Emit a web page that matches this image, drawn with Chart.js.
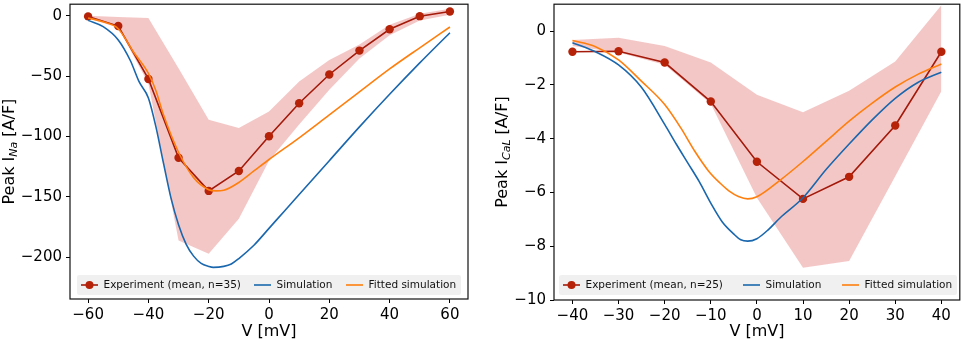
<!DOCTYPE html>
<html>
<head>
<meta charset="utf-8">
<script src="https://cdn.jsdelivr.net/npm/chart.js@4.4.1/dist/chart.umd.min.js"></script>
<style>
  html, body { margin: 0; padding: 0; background: #fff; }
  #wrap { position: relative; width: 964px; height: 343px; }
  .panel { position: absolute; top: 0; width: 482px; height: 343px; }
</style>
</head>
<body>
<div id="wrap">
  <div class="panel" style="left:0"><canvas id="naChart" width="482" height="343"></canvas></div>
  <div class="panel" style="left:482px"><canvas id="caChart" width="482" height="343"></canvas></div>
</div>
<script>
// ---- left panel: peak I_Na ----
const naV     = [-60, -50, -40, -30, -20, -10, 0, 10, 20, 30, 40, 50, 60];
const naExp   = [-0.5, -8.5, -52.3, -117.5, -145, -128.5, -99.8, -72.4, -48.6, -28.8, -11.2, -0.3, 3.6];
const naUpper = [0, -1, -1.9, -43.5, -86, -92.9, -79.2, -54.5, -36.7, -23.8, -7.4, 1.6, 5.8];
const naLower = [-2, -10, -56, -186, -197, -168, -120, -90, -61.3, -35.3, -16.1, -3.8, 0.8];

const naSimV = [-60, -55, -50, -46, -43, -40, -37.5, -35, -32.5, -30, -27.5, -25, -22.5, -20, -18.5, -15, -12.5, -10, -5, 0, 5, 10, 20, 30, 40, 50, 60];
const naSim  = [-3.8, -9, -20, -37, -55, -68, -92, -122, -151, -173, -189, -199, -205, -207.5, -208.3, -207.5, -205.5, -201, -190, -176, -162, -148, -120, -92, -65, -39, -14];

const naFitV = [-60, -55, -50, -45, -40, -37.5, -35, -30, -25, -20, -17.5, -15, -10, -5, 0, 10, 20, 30, 40, 50, 60];
const naFit  = [-1.8, -5, -10.7, -29.8, -47.7, -62, -82, -113, -134, -144, -145, -144.5, -138, -128.5, -119, -101, -82, -63, -44, -26.5, -9.3];

const naXTicks = [-60, -40, -20, 0, 20, 40, 60];
const naYTicks = [0, -50, -100, -150, -200];
const naLegend = ['Experiment (mean, n=35)', 'Simulation', 'Fitted simulation'];

// ---- right panel: peak I_CaL ----
const caV     = [-40, -30, -20, -10, 0, 10, 20, 30, 40];
const caExp   = [-0.77, -0.75, -1.17, -2.62, -4.86, -6.24, -5.42, -3.51, -0.77];
const caUpper = [-0.33, -0.25, -0.55, -1.17, -2.37, -3.02, -2.22, -1.13, 0.96];
const caLower = [-0.55, -0.8, -1.25, -2.7, -6.2, -8.8, -8.55, -5.4, -2.24];

const caSimV = [-40, -35, -30, -25, -20, -17.5, -15, -12.5, -10, -7.5, -5, -3.5, -2, 0, 2.5, 5, 10, 15, 20, 25, 30, 35, 40];
const caSim  = [-0.43, -0.77, -1.26, -2.1, -3.47, -4.2, -4.9, -5.6, -6.4, -7.1, -7.55, -7.76, -7.81, -7.72, -7.38, -6.95, -6.2, -5.15, -4.2, -3.3, -2.5, -1.9, -1.53];

const caFitV = [-40, -35, -30, -25, -20, -16.5, -13.5, -10.5, -8, -6, -4, -2, 0, 5, 10, 15, 20, 25, 30, 35, 40];
const caFit  = [-0.35, -0.58, -1.07, -1.87, -2.73, -3.6, -4.46, -5.2, -5.65, -5.95, -6.15, -6.24, -6.16, -5.55, -4.85, -4.1, -3.35, -2.68, -2.08, -1.6, -1.22];

const caXTicks = [-40, -30, -20, -10, 0, 10, 20, 30, 40];
const caYTicks = [0, -2, -4, -6, -8, -10];
const caLegend = ['Experiment (mean, n=25)', 'Simulation', 'Fitted simulation'];

// colours
const FONT = '"DejaVu Sans", sans-serif';
const expLine = '#a3190a';
const expDot = '#b52207';
const bandCol = 'rgba(214, 39, 40, 0.26)';
const simCol = '#1a67ae';
const fitCol = '#ff7f0e';

Chart.defaults.font.family = FONT;
Chart.defaults.color = '#000';

function pts(xs, ys) {
  return xs.map((x, i) => ({ x: x, y: ys[i] }));
}
function minus(v) {
  return String(v).replace('-', '\u2212');
}

// frame round the plot area, like matplotlib spines
const framePlugin = {
  id: 'frame',
  afterDraw(chart) {
    const ctx = chart.ctx, ca = chart.chartArea;
    ctx.save();
    ctx.strokeStyle = '#111';
    ctx.lineWidth = 1.2;
    ctx.strokeRect(ca.left, ca.top, ca.right - ca.left, ca.bottom - ca.top);
    ctx.restore();
  }
};

// y title with subscript
const yTitlePlugin = {
  id: 'yTitle',
  afterDraw(chart, args, o) {
    const ctx = chart.ctx, ca = chart.chartArea;
    ctx.save();
    ctx.translate(o.x, (ca.top + ca.bottom) / 2);
    ctx.rotate(-Math.PI / 2);
    const big = '16px ' + FONT, small = 'italic 11px ' + FONT;
    ctx.font = big;
    const w1 = ctx.measureText(o.main).width;
    const w3 = ctx.measureText(o.tail).width;
    ctx.font = small;
    const w2 = ctx.measureText(o.sub).width;
    let x = -(w1 + w2 + w3) / 2;
    ctx.fillStyle = '#000';
    ctx.textBaseline = 'middle';
    ctx.font = big; ctx.fillText(o.main, x, 0); x += w1;
    ctx.font = small; ctx.fillText(o.sub, x, 4); x += w2;
    ctx.font = big; ctx.fillText(o.tail, x, 0);
    ctx.restore();
  }
};

// legend box inside the plot, bottom
const legendPlugin = {
  id: 'boxLegend',
  afterDraw(chart, args, o) {
    const ctx = chart.ctx, ca = chart.chartArea;
    const x0 = ca.left + o.box[0], x1 = ca.left + o.box[1];
    const y0 = ca.bottom - o.box[2], y1 = ca.bottom - o.box[3];
    const cy = (y0 + y1) / 2;
    ctx.save();
    ctx.fillStyle = 'rgba(238, 238, 238, 0.9)';
    ctx.beginPath();
    ctx.roundRect(x0, y0, x1 - x0, y1 - y0, 2);
    ctx.fill();
    ctx.font = '10.5px ' + FONT;
    ctx.textBaseline = 'middle';
    o.labels.forEach((lab, i) => {
      const hx = ca.left + o.handles[i];
      ctx.strokeStyle = o.colors[i];
      ctx.lineWidth = 1.6;
      ctx.beginPath();
      ctx.moveTo(hx, cy);
      ctx.lineTo(hx + 17, cy);
      ctx.stroke();
      if (i === 0) {
        ctx.fillStyle = expDot;
        ctx.beginPath();
        ctx.arc(hx + 8.5, cy, 4, 0, Math.PI * 2);
        ctx.fill();
      }
      ctx.fillStyle = '#111';
      ctx.fillText(lab, hx + 22.5, cy + 0.5);
    });
    ctx.restore();
  }
};

function makeChart(id, c) {
  const ctx = document.getElementById(id).getContext('2d');
  return new Chart(ctx, {
    type: 'line',
    data: {
      datasets: [
        { data: pts(c.v, c.upper), borderWidth: 0, pointRadius: 0, fill: '+1', backgroundColor: bandCol, order: 4 },
        { data: pts(c.v, c.lower), borderWidth: 0, pointRadius: 0, fill: false, order: 4 },
        { data: pts(c.v, c.exp), borderColor: expLine, borderWidth: 1.6, pointRadius: 4.2,
          pointBackgroundColor: expDot, pointBorderColor: expDot, pointBorderWidth: 0, fill: false, order: 2 },
        { data: pts(c.simV, c.sim), borderColor: simCol, borderWidth: 1.6, pointRadius: 0,
          cubicInterpolationMode: 'monotone', fill: false, order: 1 },
        { data: pts(c.fitV, c.fit), borderColor: fitCol, borderWidth: 1.6, pointRadius: 0,
          cubicInterpolationMode: 'monotone', fill: false, order: 0 }
      ]
    },
    options: {
      responsive: false,
      animation: false,
      devicePixelRatio: 1,
      layout: { padding: c.pad },
      plugins: {
        legend: { display: false },
        tooltip: { enabled: false },
        yTitle: c.ytitle,
        boxLegend: c.legend
      },
      scales: {
        x: {
          type: 'linear', min: c.xMin, max: c.xMax,
          afterBuildTicks: s => { s.ticks = c.xTicks.map(v => ({ value: v })); },
          afterFit: s => { s.height = c.xH; s.paddingLeft = 0; s.paddingRight = 0; },
          grid: { drawOnChartArea: false, drawTicks: true, tickLength: 4, color: '#000' },
          border: { display: false },
          ticks: { color: '#000', font: { size: 15 }, padding: 3, maxRotation: 0, autoSkip: false, callback: v => minus(v) },
          title: { display: true, text: 'V [mV]', color: '#000', font: { size: 16 }, padding: { top: 0, bottom: 2 } }
        },
        y: {
          type: 'linear', min: c.yMin, max: c.yMax,
          afterBuildTicks: s => { s.ticks = c.yTicks.map(v => ({ value: v })); },
          afterFit: s => { s.width = c.yW; s.paddingTop = 0; s.paddingBottom = 0; },
          grid: { drawOnChartArea: false, drawTicks: true, tickLength: 4, color: '#000' },
          border: { display: false },
          ticks: { color: '#000', font: { size: 15 }, padding: 4, autoSkip: false, callback: v => minus(v) }
        }
      }
    },
    plugins: [framePlugin, yTitlePlugin, legendPlugin]
  });
}

makeChart('naChart', {
  v: naV, exp: naExp, upper: naUpper, lower: naLower,
  simV: naSimV, sim: naSim, fitV: naFitV, fit: naFit,
  xTicks: naXTicks, yTicks: naYTicks,
  xMin: -66, xMax: 66, yMin: -234.5, yMax: 9.6,
  pad: { left: 0, right: 14, top: 2, bottom: 0 }, xH: 44, yW: 70,
  ytitle: { x: 10, main: 'Peak I', sub: 'Na', tail: ' [A/F]' },
  legend: { labels: naLegend, colors: [expLine, simCol, fitCol], box: [7, 391, 24, 4], handles: [11, 184, 276] }
});

makeChart('caChart', {
  v: caV, exp: caExp, upper: caUpper, lower: caLower,
  simV: caSimV, sim: caSim, fitV: caFitV, fit: caFit,
  xTicks: caXTicks, yTicks: caYTicks,
  xMin: -44, xMax: 44, yMin: -10, yMax: 1.0,
  pad: { left: 0, right: 3, top: 2, bottom: 0 }, xH: 43, yW: 72,
  ytitle: { x: 21, main: 'Peak I', sub: 'CaL', tail: ' [A/F]' },
  legend: { labels: caLegend, colors: [expLine, simCol, fitCol], box: [5, 403, 25, 5], handles: [9, 189, 288] }
});
</script>
</body>
</html>
